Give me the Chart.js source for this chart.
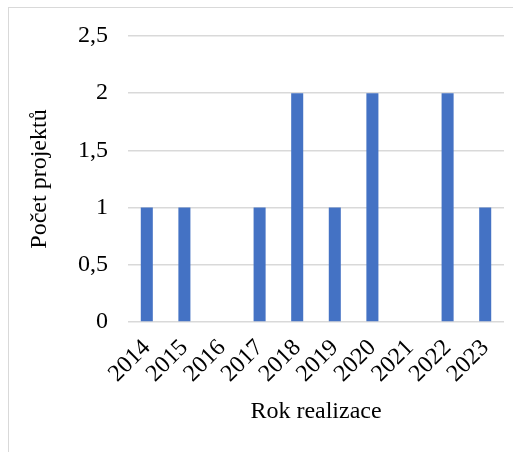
<!DOCTYPE html>
<html lang="cs">
<head>
<meta charset="utf-8">
<script src="https://cdn.jsdelivr.net/npm/chart.js@4.4.0/dist/chart.umd.min.js"></script>
<style>
    html, body { margin: 0; padding: 0; background: #fff; overflow: hidden; }
    .frame {
        position: absolute; left: 8px; top: 7px; width: 600px; height: 600px;
        border-left: 1px solid #d9d9d9; border-top: 1px solid #d9d9d9;
    }
    .wrap { position: absolute; left: 0; top: 0; width: 513px; height: 452px; }
</style>
</head>
<body>
<div class="frame"></div>
<div class="wrap"><canvas id="projectsChart"></canvas></div>
<script>
// Data
const years = ['2014', '2015', '2016', '2017', '2018', '2019', '2020', '2021', '2022', '2023'];
const projectCounts = [1, 1, 0, 1, 2, 1, 2, 0, 2, 1];
const yTicks = [0, 0.5, 1, 1.5, 2, 2.5];

document.addEventListener('DOMContentLoaded', function () {
    const font = { family: "'Liberation Serif', 'Times New Roman', serif", size: 24 };

    const ctx = document.getElementById('projectsChart').getContext('2d');
    window.projectsChart = new Chart(ctx, {
        type: 'bar',
        data: {
            labels: years,
            datasets: [{
                label: 'Počet projektů',
                data: projectCounts,
                backgroundColor: '#4472C4',
                borderWidth: 0,
                categoryPercentage: 1,
                barPercentage: 0.32
            }]
        },
        options: {
            responsive: true,
            maintainAspectRatio: false,
            animation: false,
            layout: { padding: { left: 10, top: 36, right: 9, bottom: 10 } },
            plugins: {
                legend: { display: false },
                tooltip: { enabled: false }
            },
            scales: {
                x: {
                    grid: { display: false },
                    border: { display: false },
                    ticks: { font: font, color: '#000', minRotation: 45, maxRotation: 45, autoSkip: false, padding: 4 },
                    title: { display: true, text: 'Rok realizace', font: font, color: '#000', padding: { top: 0, bottom: 15.6 } },
                    afterFit: function (scale) { scale.height = 120; }
                },
                y: {
                    min: yTicks[0],
                    max: yTicks[yTicks.length - 1],
                    afterBuildTicks: function (scale) {
                        scale.ticks = yTicks.map(v => ({ value: v }));
                    },
                    grid: { color: '#d9d9d9', lineWidth: 1.5, drawTicks: false },
                    border: { display: false },
                    ticks: {
                        font: font,
                        color: '#000',
                        padding: 20,
                        callback: v => String(v).replace('.', ',')
                    },
                    title: { display: true, text: 'Počet projektů', font: font, color: '#000', padding: { top: 15.6, bottom: 0 } },
                    afterFit: function (scale) { scale.width = 118; }
                }
            }
        }
    });
});
</script>
</body>
</html>
